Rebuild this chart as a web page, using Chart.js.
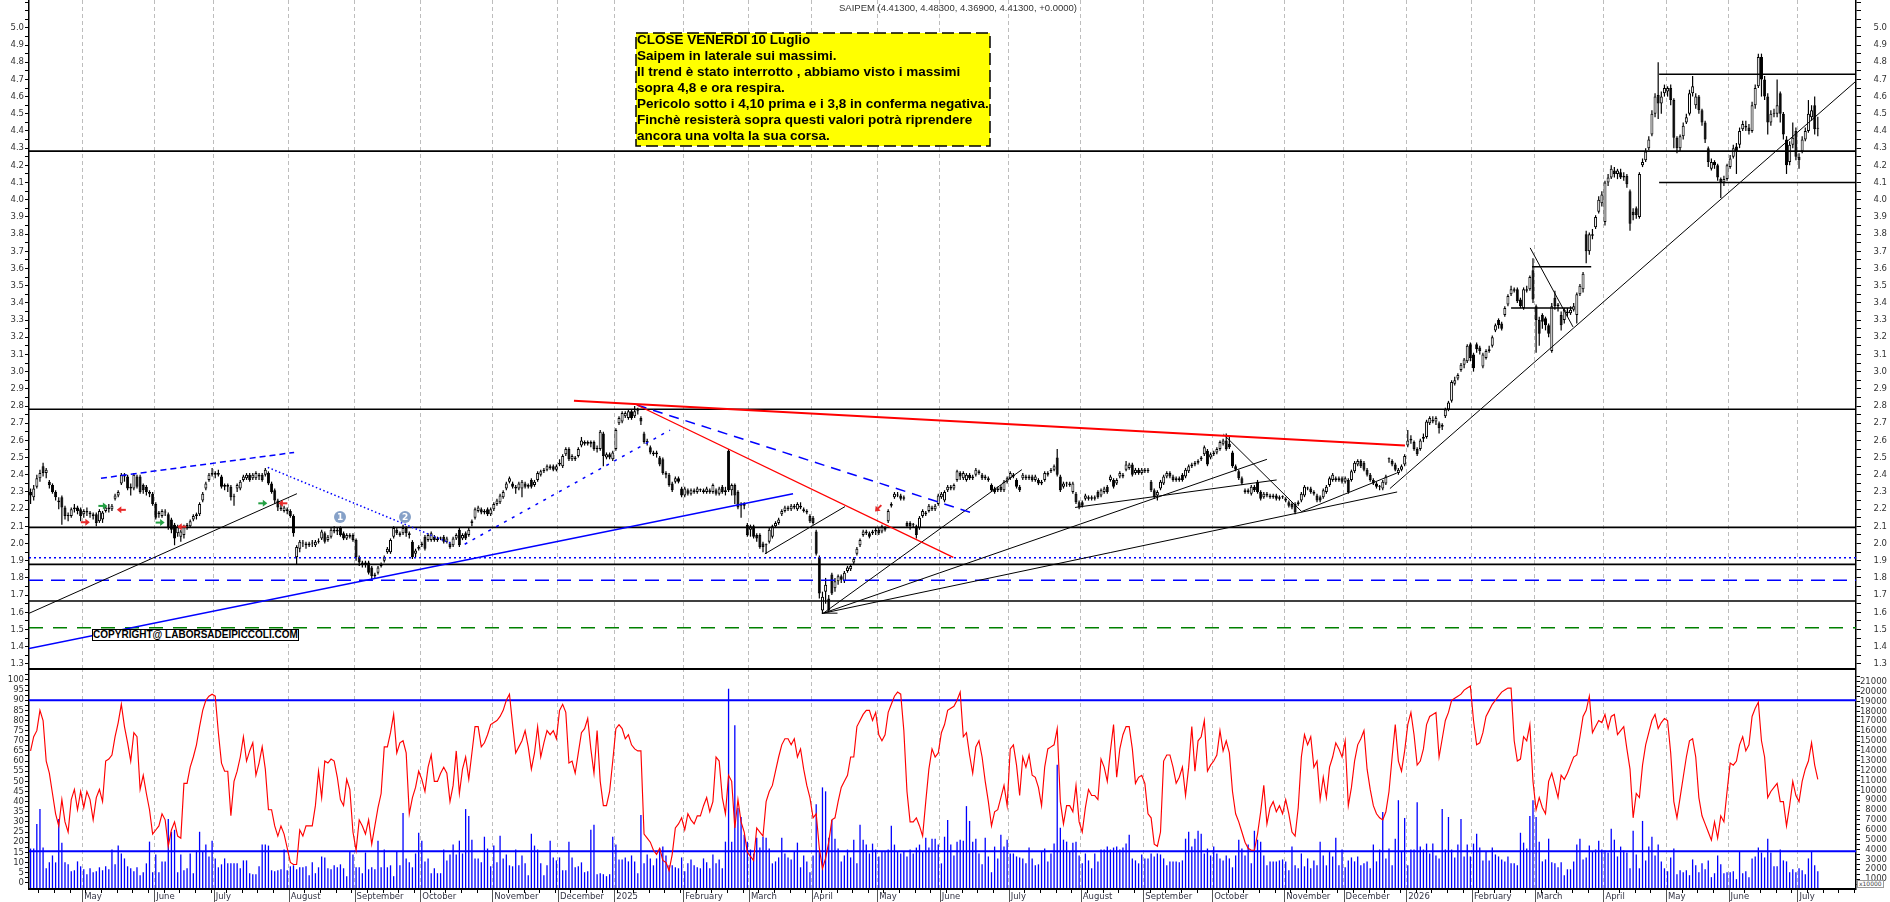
<!DOCTYPE html>
<html lang="it">
<head>
<meta charset="utf-8">
<title>SAIPEM</title>
<script src="https://cdn.jsdelivr.net/npm/chart.js@4.4.1/dist/chart.umd.min.js"></script>
<style>
  html, body { margin:0; padding:0; background:#fff; }
  #wrap { position:relative; width:1890px; height:902px; overflow:hidden; background:#fff; }
  canvas { position:absolute; left:0; display:block; }
  #c1 { top:0; width:1890px; height:668px; }
  #c2 { top:668px; width:1890px; height:234px; }
  #title { position:absolute; left:839px; top:2px; font:9.5px "Liberation Sans", Arial, sans-serif; color:#333; white-space:nowrap; line-height:11px; }
  #noteBox { position:absolute; left:635px; top:32px; }
  #note { position:absolute; left:637px; top:32px; font:bold 13.5px "Liberation Sans", Arial, sans-serif; line-height:16px; color:#000; white-space:nowrap; }
  #copy { position:absolute; left:92px; top:629px; width:207px; height:12px; box-sizing:border-box; border:1px solid #000; background:#fff; font:bold 10px "Liberation Sans", Arial, sans-serif; line-height:10px; text-align:center; white-space:nowrap; color:#000; overflow:hidden; }
  #xunit { position:absolute; left:1857px; top:880px; font:6px "DejaVu Sans", sans-serif; color:#444; border:1px solid #999; line-height:6px; padding:0 1px; background:#fff; }
  .num { position:absolute; width:12px; height:12px; border-radius:50%; background:#86a1c8; color:#fff; font:bold 9px "DejaVu Sans", sans-serif; line-height:12px; text-align:center; }
</style>
</head>
<body>
<div id="wrap">
  <canvas id="c1" width="1890" height="668"></canvas>
  <canvas id="c2" width="1890" height="234"></canvas>
  <div id="title">SAIPEM (4.41300, 4.48300, 4.36900, 4.41300, +0.0000)</div>
  <svg id="noteBox" width="357" height="116"><rect x="1" y="1" width="354" height="113" fill="#ffff00" stroke="#000" stroke-width="1.5" stroke-dasharray="12 5"/></svg>
  <div id="note">CLOSE VENERDI 10 Luglio<br>Saipem in laterale sui massimi.<br>Il trend è stato interrotto , abbiamo visto i massimi<br>sopra 4,8 e ora respira.<br>Pericolo sotto i 4,10 prima e i 3,8 in conferma negativa.<br>Finchè resisterà sopra questi valori potrà riprendere<br>ancora una volta la sua corsa.</div>
  <div id="copy">COPYRIGHT@ LABORSADEIPICCOLI.COM</div>
  <div id="xunit">x10000</div>
</div>
<script>
// ---------------- tick labels ----------------
const monthLabels = ["May","June","July","August","September","October","November","December","2025","February","March","April","May","June","July","August","September","October","November","December","2026","February","March","April","May","June","July"];
const monthStartIdx = [17,40,59,83,104,125,148,169,187,209,230,250,271,291,313,336,356,378,401,420,440,461,481,503,523,543,565];
const priceTickLabels = ["1.3","1.4","1.5","1.6","1.7","1.8","1.9","2.0","2.1","2.2","2.3","2.4","2.5","2.6","2.7","2.8","2.9","3.0","3.1","3.2","3.3","3.4","3.5","3.6","3.7","3.8","3.9","4.0","4.1","4.2","4.3","4.4","4.5","4.6","4.7","4.8","4.9","5.0"];
const oscTickLabels = ["0","5","10","15","20","25","30","35","40","45","50","55","60","65","70","75","80","85","90","95","100"];
const volTickLabels = ["1000","2000","3000","4000","5000","6000","7000","8000","9000","10000","11000","12000","13000","14000","15000","16000","17000","18000","19000","20000","21000"];

// ---------------- daily OHLC (SAIPEM) ----------------
const opens = [
2.30,2.27,2.33,2.38,2.45,2.41,2.36,2.34,2.30,2.25,
2.27,2.21,2.16,2.16,2.20,2.21,2.20,2.17,2.19,2.18,
2.17,2.17,2.13,2.14,2.19,2.21,2.20,2.26,2.28,2.35,
2.40,2.39,2.32,2.32,2.39,2.39,2.34,2.33,2.30,2.29,
2.23,2.17,2.16,2.18,2.17,2.14,2.11,2.06,2.04,2.05,
2.10,2.10,2.14,2.16,2.17,2.25,2.32,2.37,2.40,2.41,
2.40,2.39,2.33,2.34,2.33,2.27,2.32,2.32,2.37,2.38,
2.40,2.38,2.38,2.40,2.40,2.40,2.41,2.35,2.31,2.25,
2.21,2.19,2.20,2.19,2.16,1.92,1.97,2.00,2.00,1.99,
2.00,1.99,2.01,2.03,2.06,2.02,2.04,2.07,2.08,2.09,
2.06,2.03,2.04,2.05,2.02,1.92,1.89,1.88,1.89,1.86,
1.81,1.83,1.87,1.90,1.95,1.95,2.04,2.08,2.06,2.06,
2.09,2.06,2.01,1.94,1.97,1.99,2.04,2.02,2.02,2.04,
2.02,2.03,2.04,2.01,2.00,1.99,2.03,2.08,2.03,2.06,
2.05,2.12,2.15,2.19,2.20,2.18,2.20,2.17,2.20,2.23,
2.24,2.27,2.32,2.36,2.35,2.33,2.32,2.32,2.35,2.33,
2.37,2.34,2.37,2.40,2.42,2.43,2.44,2.45,2.43,2.47,
2.45,2.52,2.55,2.49,2.50,2.51,2.57,2.59,2.58,2.59,
2.59,2.55,2.55,2.64,2.50,2.52,2.49,2.55,2.70,2.71,
2.74,2.73,2.77,2.74,2.77,2.73,2.64,2.59,2.56,2.53,
2.52,2.50,2.49,2.41,2.40,2.35,2.36,2.38,2.32,2.28,
2.31,2.29,2.31,2.30,2.31,2.31,2.30,2.31,2.30,2.31,
2.29,2.33,2.30,2.54,2.31,2.34,2.30,2.22,2.23,2.11,
2.08,2.10,2.05,2.05,2.00,1.99,2.01,2.04,2.10,2.12,
2.17,2.19,2.21,2.20,2.22,2.20,2.22,2.20,2.19,2.16,
2.15,2.07,1.92,1.61,1.72,1.68,1.82,1.74,1.78,1.81,
1.78,1.84,1.85,1.89,1.94,1.99,2.05,2.06,2.06,2.06,
2.07,2.08,2.07,2.09,2.13,2.22,2.27,2.28,2.28,2.26,
2.12,2.12,2.11,2.10,2.09,2.16,2.18,2.19,2.21,2.20,
2.23,2.27,2.25,2.31,2.33,2.32,2.37,2.41,2.38,2.37,
2.40,2.38,2.40,2.42,2.40,2.38,2.38,2.34,2.32,2.31,
2.33,2.31,2.36,2.38,2.40,2.37,2.33,2.38,2.39,2.38,
2.39,2.37,2.37,2.36,2.37,2.40,2.42,2.43,2.50,2.39,
2.33,2.35,2.35,2.30,2.29,2.24,2.24,2.26,2.27,2.26,
2.27,2.30,2.28,2.30,2.33,2.37,2.37,2.35,2.39,2.40,
2.43,2.44,2.46,2.41,2.43,2.41,2.43,2.42,2.36,2.31,
2.28,2.32,2.35,2.39,2.41,2.39,2.37,2.38,2.40,2.39,
2.42,2.45,2.46,2.47,2.49,2.52,2.54,2.50,2.52,2.53,
2.55,2.58,2.60,2.58,2.53,2.45,2.42,2.38,2.31,2.30,
2.29,2.33,2.36,2.30,2.27,2.29,2.28,2.27,2.28,2.26,
2.27,2.26,2.24,2.23,2.23,2.23,2.25,2.28,2.32,2.32,
2.30,2.28,2.27,2.27,2.30,2.34,2.37,2.38,2.37,2.38,
2.36,2.37,2.37,2.42,2.46,2.48,2.47,2.43,2.40,2.37,
2.35,2.33,2.32,2.35,2.49,2.48,2.46,2.41,2.43,2.46,
2.57,2.60,2.59,2.55,2.55,2.61,2.62,2.70,2.72,2.71,
2.70,2.68,2.74,2.78,2.83,2.93,2.96,3.01,3.04,3.06,
3.16,3.10,3.16,3.14,3.03,3.08,3.12,3.15,3.24,3.30,
3.28,3.33,3.39,3.45,3.47,3.48,3.42,3.37,3.47,3.48,
3.59,3.38,3.30,3.33,3.31,3.27,3.12,3.43,3.38,3.33,
3.30,3.35,3.34,3.36,3.33,3.45,3.48,3.80,3.70,3.79,
3.84,3.93,3.98,3.87,4.10,4.13,4.17,4.15,4.16,4.13,
4.14,4.05,3.93,3.95,3.90,4.20,4.23,4.30,4.38,4.50,
4.61,4.56,4.62,4.63,4.65,4.58,4.36,4.30,4.37,4.45,
4.50,4.62,4.55,4.60,4.52,4.45,4.30,4.18,4.22,4.20,
4.12,4.10,4.12,4.19,4.25,4.31,4.32,4.41,4.43,4.42,
4.40,4.55,4.66,4.83,4.70,4.60,4.45,4.50,4.50,4.62,
4.50,4.35,4.22,4.32,4.40,4.25,4.28,4.35,4.40,4.48,
4.55,4.413];
const highs = [
2.32,2.34,2.40,2.43,2.47,2.44,2.37,2.35,2.31,2.27,
2.28,2.22,2.18,2.21,2.23,2.22,2.21,2.20,2.21,2.19,
2.18,2.18,2.20,2.19,2.22,2.23,2.23,2.29,2.31,2.41,
2.41,2.40,2.35,2.41,2.40,2.40,2.35,2.34,2.31,2.30,
2.24,2.19,2.20,2.20,2.18,2.15,2.12,2.11,2.08,2.11,
2.12,2.14,2.17,2.18,2.24,2.30,2.36,2.41,2.44,2.42,
2.43,2.40,2.35,2.35,2.34,2.29,2.35,2.37,2.40,2.41,
2.41,2.41,2.42,2.41,2.41,2.44,2.42,2.36,2.32,2.26,
2.23,2.22,2.21,2.20,2.17,1.99,2.02,2.02,2.01,2.01,
2.02,2.02,2.03,2.08,2.07,2.05,2.09,2.10,2.09,2.10,
2.07,2.06,2.06,2.06,2.03,1.93,1.90,1.90,1.90,1.87,
1.83,1.87,1.89,1.93,1.98,2.03,2.10,2.09,2.07,2.11,
2.10,2.07,2.02,1.97,1.99,2.01,2.05,2.06,2.07,2.05,
2.04,2.04,2.05,2.04,2.01,2.04,2.06,2.09,2.06,2.07,
2.09,2.14,2.21,2.22,2.21,2.20,2.21,2.21,2.24,2.26,
2.29,2.31,2.36,2.39,2.36,2.34,2.36,2.37,2.36,2.35,
2.38,2.37,2.42,2.43,2.44,2.46,2.46,2.46,2.46,2.49,
2.52,2.56,2.56,2.52,2.51,2.56,2.62,2.60,2.60,2.60,
2.60,2.57,2.66,2.65,2.53,2.53,2.54,2.67,2.74,2.77,
2.77,2.78,2.78,2.80,2.79,2.74,2.65,2.61,2.57,2.54,
2.54,2.51,2.50,2.42,2.41,2.36,2.39,2.39,2.33,2.33,
2.32,2.32,2.32,2.33,2.32,2.32,2.33,2.32,2.35,2.32,
2.33,2.34,2.33,2.55,2.35,2.35,2.31,2.24,2.24,2.12,
2.11,2.11,2.06,2.06,2.01,2.00,2.09,2.11,2.13,2.15,
2.20,2.22,2.22,2.23,2.23,2.24,2.24,2.21,2.20,2.17,
2.16,2.08,1.93,1.72,1.80,1.70,1.83,1.80,1.82,1.82,
1.84,1.87,1.88,1.92,1.98,2.03,2.08,2.08,2.07,2.08,
2.09,2.09,2.11,2.10,2.20,2.24,2.30,2.30,2.29,2.28,
2.13,2.13,2.12,2.11,2.16,2.20,2.19,2.23,2.22,2.23,
2.29,2.30,2.31,2.34,2.34,2.35,2.43,2.42,2.42,2.41,
2.41,2.40,2.44,2.43,2.41,2.40,2.39,2.35,2.33,2.33,
2.34,2.37,2.39,2.42,2.41,2.38,2.34,2.41,2.40,2.40,
2.40,2.40,2.38,2.37,2.42,2.42,2.44,2.46,2.55,2.40,
2.36,2.36,2.36,2.36,2.30,2.25,2.25,2.29,2.28,2.28,
2.28,2.31,2.32,2.33,2.34,2.40,2.38,2.38,2.42,2.41,
2.48,2.47,2.47,2.44,2.44,2.44,2.44,2.44,2.37,2.32,
2.31,2.37,2.40,2.42,2.42,2.40,2.39,2.39,2.41,2.44,
2.46,2.47,2.48,2.49,2.51,2.57,2.55,2.53,2.54,2.56,
2.60,2.61,2.64,2.62,2.54,2.46,2.43,2.39,2.32,2.32,
2.34,2.34,2.37,2.31,2.30,2.30,2.29,2.29,2.29,2.28,
2.28,2.27,2.25,2.24,2.24,2.25,2.30,2.34,2.33,2.33,
2.31,2.29,2.28,2.32,2.34,2.39,2.41,2.39,2.39,2.39,
2.39,2.38,2.43,2.48,2.49,2.49,2.48,2.44,2.41,2.38,
2.36,2.34,2.37,2.40,2.50,2.49,2.47,2.44,2.46,2.52,
2.66,2.63,2.60,2.56,2.61,2.64,2.72,2.74,2.74,2.74,
2.71,2.70,2.79,2.83,2.95,2.97,2.99,3.05,3.08,3.16,
3.17,3.11,3.17,3.15,3.11,3.13,3.15,3.21,3.28,3.31,
3.29,3.38,3.45,3.50,3.49,3.49,3.43,3.49,3.50,3.56,
3.66,3.39,3.32,3.34,3.32,3.28,3.40,3.47,3.40,3.35,
3.37,3.37,3.38,3.40,3.46,3.51,3.58,3.82,3.81,3.83,
3.91,4.02,4.05,4.11,4.15,4.20,4.19,4.18,4.18,4.16,
4.15,4.06,3.95,3.96,4.16,4.24,4.30,4.37,4.52,4.62,
4.80,4.63,4.67,4.66,4.67,4.59,4.37,4.38,4.45,4.50,
4.64,4.72,4.62,4.61,4.53,4.46,4.31,4.24,4.23,4.21,
4.13,4.14,4.21,4.26,4.32,4.33,4.42,4.46,4.46,4.44,
4.57,4.67,4.85,4.85,4.72,4.62,4.52,4.53,4.70,4.63,
4.51,4.37,4.34,4.45,4.42,4.27,4.37,4.42,4.58,4.55,
4.60,4.483];
const lows = [
2.23,2.25,2.32,2.36,2.39,2.38,2.32,2.29,2.25,2.20,
2.11,2.14,2.13,2.15,2.18,2.17,2.13,2.15,2.16,2.15,
2.14,2.10,2.12,2.12,2.18,2.18,2.19,2.25,2.27,2.34,
2.36,2.31,2.28,2.31,2.32,2.29,2.29,2.28,2.27,2.22,
2.14,2.15,2.15,2.16,2.08,2.06,1.99,2.04,2.01,2.03,
2.08,2.09,2.13,2.14,2.16,2.24,2.31,2.36,2.39,2.38,
2.39,2.32,2.31,2.30,2.25,2.22,2.30,2.31,2.36,2.37,
2.36,2.37,2.37,2.37,2.36,2.39,2.34,2.29,2.23,2.19,
2.19,2.18,2.17,2.15,2.04,1.88,1.95,1.98,1.97,1.98,
1.98,1.98,2.00,2.02,2.00,2.01,2.03,2.06,2.05,2.04,
2.02,2.02,2.03,2.01,1.90,1.87,1.86,1.86,1.82,1.79,
1.80,1.82,1.86,1.89,1.94,1.94,2.03,2.05,2.04,2.05,
2.04,2.03,1.91,1.92,1.96,1.98,1.96,2.01,2.01,2.01,
2.01,2.02,2.00,2.00,1.97,1.98,2.02,1.98,2.02,2.02,
2.04,2.10,2.14,2.18,2.17,2.17,2.16,2.16,2.19,2.22,
2.23,2.26,2.31,2.35,2.32,2.29,2.31,2.27,2.32,2.32,
2.32,2.33,2.36,2.39,2.41,2.42,2.43,2.42,2.42,2.45,
2.44,2.51,2.48,2.48,2.48,2.50,2.56,2.57,2.57,2.56,
2.54,2.53,2.54,2.45,2.49,2.49,2.48,2.54,2.69,2.70,
2.73,2.72,2.72,2.73,2.75,2.69,2.58,2.57,2.52,2.51,
2.50,2.45,2.40,2.38,2.33,2.30,2.35,2.35,2.27,2.27,
2.28,2.28,2.29,2.29,2.30,2.29,2.29,2.29,2.29,2.28,
2.28,2.29,2.28,2.30,2.28,2.23,2.20,2.15,2.20,2.04,
2.04,2.03,2.01,1.97,1.95,1.94,2.00,2.03,2.09,2.11,
2.16,2.18,2.19,2.19,2.20,2.19,2.20,2.18,2.17,2.12,
2.11,1.93,1.68,1.59,1.65,1.60,1.70,1.72,1.76,1.77,
1.77,1.83,1.84,1.88,1.93,1.98,2.04,2.05,2.03,2.05,
2.05,2.05,2.06,2.07,2.12,2.21,2.26,2.27,2.25,2.25,
2.09,2.08,2.09,2.03,2.08,2.15,2.16,2.18,2.19,2.19,
2.22,2.26,2.24,2.30,2.31,2.31,2.36,2.37,2.37,2.36,
2.37,2.37,2.39,2.40,2.37,2.37,2.36,2.30,2.29,2.30,
2.30,2.30,2.35,2.37,2.38,2.32,2.30,2.37,2.37,2.37,
2.36,2.36,2.34,2.34,2.36,2.39,2.41,2.42,2.39,2.30,
2.32,2.33,2.33,2.29,2.23,2.20,2.21,2.25,2.25,2.25,
2.25,2.26,2.27,2.29,2.29,2.36,2.32,2.34,2.38,2.38,
2.42,2.43,2.39,2.40,2.40,2.40,2.41,2.41,2.30,2.26,
2.25,2.31,2.34,2.38,2.38,2.36,2.36,2.36,2.36,2.38,
2.41,2.44,2.45,2.46,2.48,2.51,2.45,2.49,2.51,2.52,
2.54,2.57,2.54,2.55,2.44,2.42,2.37,2.34,2.29,2.29,
2.28,2.30,2.29,2.25,2.26,2.27,2.26,2.26,2.25,2.25,
2.26,2.24,2.21,2.20,2.17,2.22,2.24,2.27,2.31,2.29,
2.28,2.24,2.24,2.26,2.29,2.33,2.36,2.36,2.36,2.35,
2.35,2.29,2.36,2.41,2.45,2.44,2.42,2.39,2.36,2.34,
2.32,2.31,2.31,2.34,2.47,2.45,2.42,2.40,2.42,2.45,
2.56,2.58,2.54,2.51,2.54,2.59,2.61,2.69,2.70,2.69,
2.64,2.66,2.73,2.77,2.82,2.92,2.95,3.00,3.02,3.05,
3.06,3.00,3.11,3.10,3.02,3.07,3.11,3.14,3.23,3.25,
3.24,3.32,3.38,3.44,3.46,3.40,3.37,3.36,3.46,3.47,
3.40,3.11,3.15,3.25,3.24,3.20,3.11,3.36,3.35,3.24,
3.28,3.32,3.33,3.35,3.28,3.44,3.46,3.63,3.68,3.77,
3.83,3.92,3.96,3.85,4.08,4.12,4.13,4.12,4.12,4.11,
4.07,3.82,3.88,3.89,3.89,4.19,4.22,4.29,4.37,4.48,
4.47,4.50,4.60,4.60,4.55,4.30,4.27,4.28,4.35,4.44,
4.49,4.60,4.53,4.50,4.43,4.33,4.19,4.17,4.18,4.11,
4.01,4.08,4.11,4.18,4.24,4.15,4.30,4.40,4.40,4.38,
4.39,4.53,4.65,4.60,4.58,4.38,4.43,4.48,4.48,4.45,
4.35,4.15,4.20,4.30,4.23,4.18,4.27,4.34,4.39,4.46,
4.38,4.369];
const closes = [
2.28,2.32,2.38,2.41,2.41,2.43,2.34,2.30,2.27,2.24,
2.21,2.16,2.16,2.20,2.21,2.19,2.16,2.19,2.18,2.17,
2.16,2.12,2.19,2.18,2.21,2.20,2.22,2.28,2.30,2.40,
2.39,2.32,2.33,2.40,2.33,2.30,2.31,2.30,2.29,2.23,
2.15,2.18,2.19,2.18,2.09,2.08,2.03,2.10,2.07,2.10,
2.11,2.13,2.16,2.17,2.23,2.29,2.35,2.40,2.41,2.40,
2.41,2.33,2.34,2.33,2.27,2.27,2.34,2.36,2.39,2.40,
2.37,2.40,2.41,2.39,2.37,2.43,2.35,2.30,2.25,2.21,
2.20,2.21,2.19,2.16,2.06,1.98,2.01,2.00,1.99,2.00,
2.00,2.01,2.01,2.07,2.01,2.04,2.08,2.08,2.07,2.05,
2.03,2.05,2.05,2.02,1.92,1.89,1.88,1.89,1.83,1.81,
1.82,1.86,1.88,1.92,1.97,2.02,2.09,2.06,2.05,2.09,
2.06,2.05,1.92,1.96,1.98,2.00,1.97,2.05,2.06,2.02,
2.03,2.03,2.01,2.03,1.98,2.03,2.05,1.99,2.05,2.03,
2.08,2.13,2.20,2.21,2.18,2.19,2.17,2.20,2.23,2.25,
2.28,2.30,2.35,2.38,2.33,2.32,2.35,2.36,2.33,2.34,
2.33,2.36,2.41,2.42,2.43,2.45,2.45,2.43,2.45,2.46,
2.51,2.55,2.49,2.51,2.49,2.55,2.60,2.58,2.59,2.58,
2.55,2.55,2.65,2.51,2.52,2.50,2.53,2.66,2.73,2.76,
2.76,2.77,2.73,2.77,2.77,2.71,2.59,2.59,2.53,2.52,
2.53,2.46,2.41,2.40,2.34,2.31,2.38,2.36,2.28,2.32,
2.29,2.31,2.30,2.32,2.31,2.30,2.32,2.30,2.34,2.29,
2.32,2.30,2.31,2.31,2.34,2.28,2.21,2.23,2.22,2.05,
2.10,2.04,2.03,1.98,1.98,1.99,2.08,2.10,2.12,2.14,
2.19,2.21,2.20,2.22,2.21,2.23,2.21,2.19,2.18,2.13,
2.12,1.94,1.71,1.69,1.76,1.61,1.71,1.78,1.81,1.79,
1.83,1.86,1.87,1.91,1.97,2.02,2.07,2.07,2.04,2.07,
2.08,2.06,2.10,2.08,2.19,2.23,2.29,2.28,2.26,2.27,
2.10,2.10,2.11,2.05,2.15,2.19,2.17,2.22,2.20,2.22,
2.28,2.29,2.30,2.33,2.32,2.34,2.42,2.39,2.41,2.40,
2.38,2.39,2.43,2.41,2.38,2.39,2.37,2.31,2.30,2.32,
2.31,2.36,2.38,2.41,2.39,2.33,2.31,2.40,2.38,2.39,
2.37,2.39,2.35,2.35,2.41,2.41,2.43,2.45,2.40,2.31,
2.35,2.35,2.34,2.35,2.24,2.21,2.22,2.28,2.26,2.27,
2.26,2.27,2.31,2.32,2.30,2.39,2.33,2.37,2.41,2.39,
2.46,2.46,2.40,2.43,2.41,2.43,2.42,2.43,2.31,2.27,
2.30,2.36,2.39,2.41,2.39,2.37,2.38,2.37,2.37,2.43,
2.45,2.46,2.47,2.48,2.50,2.56,2.46,2.52,2.53,2.55,
2.59,2.60,2.55,2.56,2.45,2.43,2.38,2.35,2.30,2.31,
2.33,2.31,2.30,2.26,2.29,2.28,2.27,2.28,2.26,2.27,
2.27,2.25,2.22,2.21,2.18,2.24,2.29,2.33,2.32,2.30,
2.29,2.25,2.25,2.31,2.33,2.38,2.40,2.37,2.38,2.36,
2.38,2.30,2.42,2.47,2.48,2.45,2.43,2.40,2.37,2.35,
2.33,2.33,2.36,2.39,2.49,2.46,2.43,2.43,2.45,2.51,
2.60,2.61,2.55,2.52,2.60,2.62,2.71,2.73,2.71,2.73,
2.67,2.69,2.78,2.82,2.94,2.95,2.98,3.04,3.07,3.15,
3.08,3.02,3.13,3.12,3.10,3.12,3.13,3.20,3.27,3.27,
3.25,3.37,3.44,3.48,3.48,3.41,3.38,3.48,3.48,3.55,
3.42,3.30,3.22,3.29,3.27,3.22,3.38,3.38,3.39,3.27,
3.36,3.34,3.36,3.38,3.45,3.50,3.57,3.70,3.80,3.80,
3.90,4.00,4.03,4.10,4.13,4.18,4.15,4.17,4.13,4.14,
4.09,3.86,3.91,3.91,4.15,4.22,4.28,4.35,4.50,4.60,
4.56,4.60,4.65,4.65,4.58,4.36,4.30,4.37,4.43,4.48,
4.62,4.66,4.60,4.52,4.45,4.35,4.22,4.22,4.20,4.13,
4.10,4.12,4.20,4.24,4.30,4.28,4.40,4.44,4.42,4.40,
4.55,4.65,4.83,4.70,4.60,4.45,4.50,4.50,4.55,4.50,
4.38,4.20,4.32,4.36,4.25,4.23,4.35,4.40,4.50,4.52,
4.41,4.413];

// ---------------- lower panel: oscillator (left axis) ----------------
const oscillator = [
65,72,75,85,80,60,54,44,34,28,
41,30,25,41,46,36,45,37,45,41,
31,42,46,40,60,61,63,72,79,88,
77,69,60,74,72,46,53,44,36,24,
26,28,34,31,18,26,30,23,22,49,
49,57,62,68,77,85,90,92,93,92,
74,59,55,55,33,50,55,62,72,60,
65,69,53,59,67,56,36,36,28,23,
28,24,17,10,9,9,26,23,28,28,
28,38,55,42,60,59,61,60,52,41,
38,51,46,25,16,31,28,24,31,19,
28,37,44,67,67,74,83,64,69,70,
64,34,42,47,55,51,45,57,63,50,
50,54,57,54,40,48,65,44,56,62,
51,64,77,77,67,69,73,78,79,80,
82,85,90,93,78,64,67,70,75,67,
56,64,77,62,69,75,73,75,71,85,
88,84,59,60,54,64,74,76,81,66,
54,75,50,38,38,45,60,76,78,76,
71,73,68,66,65,65,24,22,20,16,
14,17,11,10,6,14,27,29,32,26,
34,31,29,33,33,38,42,35,40,62,
60,42,34,53,50,27,41,30,25,15,
13,11,27,25,23,40,45,48,55,62,
68,71,71,68,71,62,66,56,48,42,
32,34,17,7,12,20,31,32,40,47,
50,53,62,62,77,80,83,85,85,80,
84,73,70,73,84,88,92,94,93,75,
45,30,30,32,28,23,40,56,66,62,
64,74,78,85,86,87,90,94,72,74,
63,54,67,70,62,50,40,28,35,36,
42,48,38,66,68,58,43,62,57,63,
53,52,47,38,57,66,67,68,76,40,
29,38,38,35,48,30,25,37,46,43,
43,41,61,57,50,65,78,52,66,73,
77,77,66,49,52,53,49,34,32,19,
18,25,60,63,63,57,49,52,57,43,
57,77,55,70,72,80,55,58,60,63,
75,65,70,64,45,34,30,25,20,17,
16,16,24,35,48,29,37,40,35,38,
34,41,34,25,23,37,62,73,68,72,
57,60,41,52,42,57,62,69,66,62,
70,38,47,60,68,71,75,56,46,38,
34,32,31,35,45,62,78,60,55,65,
78,84,73,58,60,66,78,82,83,84,
62,71,80,84,90,91,92,93,95,96,
97,80,68,69,74,82,85,88,90,92,
94,95,96,96,70,60,61,72,70,78,
50,36,42,37,34,50,54,48,42,53,
51,54,58,62,63,72,82,85,92,74,
77,80,79,83,76,82,83,73,75,77,
66,56,32,44,42,58,68,74,80,83,
76,79,81,80,64,40,32,42,52,62,
70,71,62,42,33,29,25,21,30,22,
33,30,45,59,58,60,68,72,65,68,
82,86,89,70,62,42,45,47,49,40,
40,28,38,50,43,40,50,56,60,69,
58,51];

// ---------------- lower panel: volume in thousands (right axis) ----------------
const volume2024K = [
4.1,4.1,6.6,8.1,4.2,2.1,2.7,3.4,2.7,7.1,
4.7,2.7,2.5,1.8,1.9,2.8,2.3,2.0,1.5,2.1,
1.7,1.8,2.2,1.9,2.3,2.0,4.0,2.5,4.4,3.6,
3.1,2.3,2.1,1.8,2.2,1.4,1.7,2.6,4.8,1.7,
3.5,1.7,2.8,2.8,7.1,5.8,6.0,1.7,3.5,1.9,
2.1,3.6,1.6,3.9,5.8,3.8,4.5,3.3,4.9,3.1,
2.2,2.5,3.1,2.6,2.6,2.6,2.6,2.1,2.9,2.9,
1.6,1.5,1.5,2.3,4.5,4.5,4.4,1.9,1.8,1.9,
2.0,4.0,1.9,2.3,2.4,2.0,2.2,2.2,2.3,1.4,
2.7,1.6,2.2,3.3,3.2,2.1,2.0,2.4,2.2,2.5,
2.1,1.3,3.8,3.5,2.2,2.2,1.6,3.7,2.0,2.2,
2.0,4.9,2.2,4.0,2.2,2.4,1.3,3.8,2.4,7.7,
3.1,2.7,2.2,3.6,5.7,4.9,2.8,3.1,1.6,2.1,
1.6,1.6,4.0,2.9,3.5,4.5,3.5,4.9,3.6,8.1,
7.4,5.0,3.1,3.1,2.7,5.3,4.1,2.3,4.4,2.7,
5.4,3.1,3.5,2.4,2.3,4.0,2.4,3.4,2.6,1.4,
5.6,4.4,4.0,2.6,1.4,2.4,4.9,3.2,2.9,3.2,
1.9,1.9,4.8,3.2,2.2,2.3,2.7,1.7,1.8,6.0,
6.5,1.5,1.6];
const volume2025K = [
1.5,1.3,1.5,5.3,4.5,3.0,3.0,3.2,2.8,3.4,2.8,1.6,7.5,2.6,
3.5,3.1,2.4,3.1,4.1,4.3,3.4,2.4,2.4,2.2,2.1,3.2,1.8,2.6,
3.0,2.4,2.2,2.1,3.1,2.7,2.1,3.5,2.6,3.0,2.1,4.8,20.3,4.8,16.6,8.2,7.3,5.5,4.8,4.0,3.6,5.2,4.2,5.3,5.2,4.1,2.6,
2.8,3.2,5.2,3.6,3.2,3.0,3.8,4.7,2.2,3.4,2.8,1.7,3.4,8.6,3.9,10.3,9.9,5.2,7.0,5.1,4.1,2.8,3.4,4.0,3.2,5.0,2.6,
6.5,5.0,4.5,3.6,4.6,4.0,3.3,3.8,3.8,4.0,6.4,4.5,3.8,3.6,3.8,3.3,4.0,3.6,4.2,4.5,3.8,5.2,4.2,5.1,5.1,4.5,2.6,
5.3,7.0,4.5,3.4,4.8,5.0,4.9,8.4,6.9,4.8,5.1,3.6,2.5,5.2,3.3,1.7,4.3,3.1,5.5,4.3,5.0,3.6,3.6,3.3,3.2,3.1,2.6,
4.2,3.1,2.4,2.5,3.8,4.1,2.8,3.6,4.6,12.6,6.2,5.0,4.8,3.8,4.7,4.8,3.4,2.6,3.6,2.9,2.1,3.6,2.8,4.0,4.0,4.3,4.0,4.2,4.3,4.0,4.2,4.6,5.5,3.1,2.9,2.6,
3.5,3.1,3.1,3.6,3.3,3.6,3.5,3.1,2.4,2.8,2.8,2.8,2.7,2.9,5.1,5.8,4.3,5.1,5.9,5.6,3.6,4.1,3.4,4.3,3.6,3.1,2.9,3.4,3.1,2.2,3.4,5.0,4.1,3.4,4.5,2.6,
5.9,5.0,4.8,3.4,2.4,2.8,2.8,2.8,2.9,3.0,2.8,1.9,4.3,2.4,2.1,3.6,2.3,3.1,2.1,2.9,2.4,4.8,3.4,2.4,3.8,3.3,5.2,2.4,4.0,2.2,2.9,3.2,2.8,3.3,2.4,2.6,
2.8,2.1,4.5,2.8,4.0,7.8,3.1,4.1,2.4,5.1,9.0,3.8,7.2,2.4,4.0,4.0,8.8,4.3,4.0,4.6,3.6,4.6,3.4,3.1,8.1,4.0];
const volume2026K = [
7.3,4.0,3.2,4.5,7.1,3.3,4.5,3.3,4.6,5.6,
4.2,2.9,3.8,2.9,4.2,3.5,3.3,3.0,2.8,3.3,
2.6,2.6,2.4,5.7,4.7,4.1,7.4,9.0,7.3,4.8,
2.8,3.0,5.1,2.7,2.6,2.2,2.7,1.4,2.0,2.0,
2.8,4.5,5.1,3.0,3.2,4.4,3.8,4.0,4.9,4.0,
3.9,3.7,6.1,5.0,3.3,4.3,3.9,3.7,2.1,5.9,
3.5,2.1,6.9,2.9,4.3,5.3,3.4,4.5,2.8,2.1,
1.8,3.2,4.1,1.5,1.9,1.7,1.9,1.4,3.0,2.4,
1.7,2.6,2.0,2.9,1.2,1.6,3.4,2.5,1.6,1.7,
1.7,1.8,1.0,3.8,1.6,1.8,1.2,3.1,3.3,4.2,
3.7,3.2,5.1,3.7,2.3,2.3,4.0,2.9,2.8,1.7,
2.0,1.7,2.1,1.9,1.5,3.1,3.8,2.4,1.8];
const volumeK = volume2024K.concat(volume2025K, volume2026K);

// ---------------- drawn levels and trendlines: [startIdx, startVal, endIdx, endVal] ----------------
const X_MIN = -0.5, X_MAX = 583.2;
const levelsBlack = [4.283, 2.781, 2.094, 1.879, 1.666];
const levelsBlueDotted = [1.918];
const levelsBlueDashed = [1.786];
const levelsGreenDashed = [1.51];
const segBlackThick = [[520.3,4.73,X_MAX,4.73],[520.3,4.10,X_MAX,4.10],[479.7,3.61,498.6,3.61],[473.0,3.37,492.8,3.37]];
const segBlackThin = [[-0.5,1.594,85.1,2.29],[234.6,1.94,260.2,2.215],[253.3,1.595,395.0,2.49],[253.3,1.595,436.6,2.30],[253.3,1.595,316.7,2.43],[252.8,1.595,257.8,1.595],[333.7,2.21,398.1,2.37],[381.1,2.636,406.1,2.186],[406.1,2.186,436.5,2.41],[434.3,2.32,X_MAX,4.69],[479.1,3.72,492.8,3.26]];
const segBlueSolid = [[-0.5,1.39,243.6,2.29]];
const segBlueDashMid = [[22.5,2.38,84.2,2.53]];
const segBlueDotted = [[75.8,2.443,134.8,1.997]];
const segBlueShortDash = [[138.7,1.996,204.3,2.66]];
const segBlueLongDash = [[193.7,2.806,301.2,2.176]];
const segRedThick = [[173.6,2.83,439.1,2.57]];
const segRedThin = [[193.7,2.806,294.8,1.92]];
const oscLevels = [90, 15.5];
const numberMarks = [[98.9,2.153,"1"],[119.7,2.153,"2"]];
const arrowMarks = [[17.5,2.124,'R','#e82a2a'],[23.1,2.219,'R','#23a043'],[29.0,2.196,'L','#e82a2a'],[41.4,2.122,'R','#23a043'],[48.3,2.098,'L','#e82a2a'],[74.2,2.234,'R','#23a043'],[80.6,2.234,'L','#e82a2a'],[270.8,2.205,'DL','#e82a2a']];

// ---------------- scale ranges ----------------
const P_MIN = 1.276, P_MAX = 5.162;
const OSC_MIN = -3.1, OSC_MAX = 105.9;
const VOL_MIN = 0, VOL_MAX = 22400;

Chart.defaults.font.family = "'DejaVu Sans', sans-serif";
Chart.defaults.font.size = 8.5;
Chart.defaults.color = '#333';

function labelFor(arr, v) { const f = arr.find(l => Math.abs(parseFloat(l) - v) < 1e-6); return f === undefined ? '' : f; }
const priceTickValues = [];
priceTickLabels.forEach(l => { const v = parseFloat(l); priceTickValues.push(v, Math.round((v + 0.05) * 100) / 100); });
priceTickValues.push(5.1, 5.15);
const oscTickValues = [];
oscTickLabels.forEach(l => { const v = parseFloat(l); oscTickValues.push(v); if (v < 105) oscTickValues.push(v + 2.5); });
const volTickValues = [500];
volTickLabels.forEach(l => { const v = parseFloat(l); volTickValues.push(v, v + 500); });

const lineDatasets = [];
function addSegs(list, style) {
  list.forEach(s => lineDatasets.push(Object.assign({
    type: 'line', data: [{x: s[0], y: s[1]}, {x: s[2], y: s[3]}],
    pointRadius: 0, pointHoverRadius: 0, fill: false, tension: 0, borderCapStyle: 'butt', yAxisID: 'y'
  }, style)));
}
const asLevels = arr => arr.map(v => [X_MIN, v, X_MAX, v]);
addSegs(segRedThick, {borderColor: '#ff0000', borderWidth: 2});
addSegs(segRedThin, {borderColor: '#ff0000', borderWidth: 1.3});
addSegs(segBlueLongDash, {borderColor: '#0000ff', borderWidth: 1.5, borderDash: [10, 7]});
addSegs(segBlueShortDash, {borderColor: '#0000ff', borderWidth: 1.5, borderDash: [3, 6]});
addSegs(segBlueDotted, {borderColor: '#0000ff', borderWidth: 1.5, borderDash: [1.5, 2.5]});
addSegs(segBlueDashMid, {borderColor: '#0000ff', borderWidth: 1.5, borderDash: [6, 4]});
addSegs(segBlueSolid, {borderColor: '#0000ff', borderWidth: 1.5});
addSegs(segBlackThin, {borderColor: '#000', borderWidth: 1});
addSegs(segBlackThick, {borderColor: '#000', borderWidth: 1.6});
addSegs(asLevels(levelsBlack), {borderColor: '#000', borderWidth: 1.6});
addSegs(asLevels(levelsBlueDotted), {borderColor: '#0000ff', borderWidth: 1.5, borderDash: [2, 3]});
addSegs(asLevels(levelsBlueDashed), {borderColor: '#0000ff', borderWidth: 1.5, borderDash: [14, 8]});
addSegs(asLevels(levelsGreenDashed), {borderColor: '#008000', borderWidth: 1.5, borderDash: [14, 10]});

const bodies = {
  type: 'bar', data: closes.map((c, i) => ({x: i, y: [opens[i], c]})),
  backgroundColor: ctx => (closes[ctx.dataIndex] >= opens[ctx.dataIndex] ? '#ffffff' : '#000000'),
  borderColor: '#000', borderWidth: 1, borderSkipped: false, barThickness: 3, grouped: false, minBarLength: 1, inflateAmount: 0, yAxisID: 'y'
};
const wicks = {
  type: 'bar', data: highs.map((h, i) => ({x: i, y: [lows[i], h]})),
  backgroundColor: '#000', borderWidth: 0, barThickness: 1.2, grouped: false, inflateAmount: 0, yAxisID: 'y'
};

const markPlugin = {
  id: 'marks',
  afterDatasetsDraw(chart) {
    const {ctx, scales: {x, y}} = chart;
    arrowMarks.forEach(([idx, val, dir, col]) => {
      const px = x.getPixelForValue(idx), py = y.getPixelForValue(val);
      ctx.save(); ctx.translate(px, py);
      ctx.rotate(dir === 'R' ? 0 : (dir === 'L' ? Math.PI : 0.75 * Math.PI));
      ctx.strokeStyle = col; ctx.fillStyle = col; ctx.lineWidth = 2;
      ctx.beginPath(); ctx.moveTo(-4.5, 0); ctx.lineTo(0.5, 0); ctx.stroke();
      ctx.beginPath(); ctx.moveTo(4.5, 0); ctx.lineTo(0, -3.5); ctx.lineTo(0, 3.5); ctx.closePath(); ctx.fill();
      ctx.restore();
    });
  }
};

const xGridCommon = {
  type: 'linear', min: X_MIN, max: X_MAX, offset: false,
  afterBuildTicks: s => { s.ticks = monthStartIdx.map(i => ({value: i - 0.5})); },
  grid: {color: '#bdbdbd', lineWidth: 1, drawTicks: false, offset: false},
  border: {display: false, dash: [4, 3]}
};

const ch1 = new Chart(document.getElementById('c1'), {
  type: 'bar',
  data: {datasets: [...lineDatasets, bodies, wicks]},
  options: {
    responsive: false, animation: false, devicePixelRatio: 1,
    layout: {padding: {left: 0, right: 3, top: 0, bottom: 0}, autoPadding: false},
    plugins: {legend: {display: false}, tooltip: {enabled: false}},
    events: [],
    scales: {
      x: Object.assign({}, xGridCommon, {
        position: 'bottom', ticks: {display: false},
        afterFit: s => { s.height = 0; s.paddingLeft = 0; s.paddingRight = 0; }
      }),
      y: {
        type: 'linear', position: 'left', min: P_MIN, max: P_MAX,
        afterBuildTicks: s => { s.ticks = priceTickValues.map(v => ({value: v})); },
        ticks: {autoSkip: false, padding: 1, callback: v => labelFor(priceTickLabels, v)},
        grid: {drawOnChartArea: false, tickLength: 4, tickColor: '#000', color: '#000'},
        border: {display: true, color: '#000', width: 1.5},
        afterFit: s => { s.width = 29; s.paddingTop = 0; s.paddingBottom = 0; }
      },
      y2: {
        type: 'linear', position: 'right', min: P_MIN, max: P_MAX,
        afterBuildTicks: s => { s.ticks = priceTickValues.map(v => ({value: v})); },
        ticks: {autoSkip: false, padding: 12, crossAlign: 'far', callback: v => labelFor(priceTickLabels, v)},
        grid: {drawOnChartArea: false, tickLength: 5, tickColor: '#000', color: '#000'},
        border: {display: true, color: '#000', width: 1.5},
        afterFit: s => { s.width = 31; s.paddingTop = 0; s.paddingBottom = 0; }
      }
    }
  },
  plugins: [markPlugin]
});

const frame2 = {
  id: 'frame2',
  afterDraw(chart) {
    const {ctx, chartArea: a, scales: {x}} = chart;
    ctx.save();
    ctx.strokeStyle = '#000'; ctx.lineWidth = 1;
    for (let v = 2.5; v < X_MAX; v += 5) {
      const px = Math.round(x.getPixelForValue(v)) + 0.5;
      ctx.beginPath(); ctx.moveTo(px, a.bottom); ctx.lineTo(px, a.bottom + 4); ctx.stroke();
    }
    ctx.strokeStyle = '#555';
    monthStartIdx.forEach(i => {
      const px = Math.round(x.getPixelForValue(i - 0.5)) + 0.5;
      ctx.beginPath(); ctx.moveTo(px, a.bottom); ctx.lineTo(px, chart.height); ctx.stroke();
    });
    ctx.strokeStyle = '#000'; ctx.lineWidth = 2;
    ctx.beginPath(); ctx.moveTo(a.left, 1); ctx.lineTo(a.right, 1); ctx.stroke();
    ctx.beginPath(); ctx.moveTo(a.left, a.bottom); ctx.lineTo(a.right, a.bottom); ctx.stroke();
    ctx.restore();
  }
};

const ch2 = new Chart(document.getElementById('c2'), {
  type: 'bar',
  data: {datasets: [
    {type: 'line', data: oscillator.map((v, i) => ({x: i, y: v})), borderColor: '#ff0000', borderWidth: 1.15, pointRadius: 0, tension: 0, fill: false, yAxisID: 'yOsc'},
    ...oscLevels.map(v => ({type: 'line', data: [{x: X_MIN, y: v}, {x: X_MAX, y: v}], borderColor: '#0000ff', borderWidth: 2, pointRadius: 0, fill: false, yAxisID: 'yOsc'})),
    {type: 'bar', data: volumeK.map((v, i) => ({x: i, y: v * 1000})), backgroundColor: '#0000ff', borderWidth: 0, barThickness: 1.3, grouped: false, inflateAmount: 0, yAxisID: 'yVol'}
  ]},
  options: {
    responsive: false, animation: false, devicePixelRatio: 1,
    layout: {padding: {left: 0, right: 3, top: 0, bottom: 0}, autoPadding: false},
    plugins: {legend: {display: false}, tooltip: {enabled: false}},
    events: [],
    scales: {
      x: Object.assign({}, xGridCommon, {
        position: 'bottom',
        ticks: {autoSkip: false, maxRotation: 0, minRotation: 0, align: 'start', labelOffset: 2, padding: 3, color: '#334', callback: (v, idx) => monthLabels[idx]},
        afterFit: s => { s.height = 13; s.paddingLeft = 0; s.paddingRight = 0; }
      }),
      yOsc: {
        type: 'linear', position: 'left', min: OSC_MIN, max: OSC_MAX,
        afterBuildTicks: s => { s.ticks = oscTickValues.map(v => ({value: v})); },
        ticks: {autoSkip: false, padding: 1, callback: v => labelFor(oscTickLabels, v)},
        grid: {drawOnChartArea: false, tickLength: 4, tickColor: '#000', color: '#000'},
        border: {display: true, color: '#000', width: 1.5},
        afterFit: s => { s.width = 29; s.paddingTop = 0; s.paddingBottom = 0; }
      },
      yVol: {
        type: 'linear', position: 'right', min: VOL_MIN, max: VOL_MAX,
        afterBuildTicks: s => { s.ticks = volTickValues.map(v => ({value: v})); },
        ticks: {autoSkip: false, padding: 1, crossAlign: 'far', callback: v => labelFor(volTickLabels, v)},
        grid: {drawOnChartArea: false, tickLength: 4, tickColor: '#000', color: '#000'},
        border: {display: true, color: '#000', width: 1.5},
        afterFit: s => { s.width = 31; s.paddingTop = 0; s.paddingBottom = 0; }
      }
    }
  },
  plugins: [frame2]
});

// numbered markers positioned through the price scales
const wrap = document.getElementById('wrap');
numberMarks.forEach(([idx, val, txt]) => {
  const d = document.createElement('div');
  d.className = 'num'; d.textContent = txt;
  d.style.left = (ch1.scales.x.getPixelForValue(idx) - 6) + 'px';
  d.style.top = (ch1.scales.y.getPixelForValue(val) - 6) + 'px';
  wrap.appendChild(d);
});
</script>
</body>
</html>
